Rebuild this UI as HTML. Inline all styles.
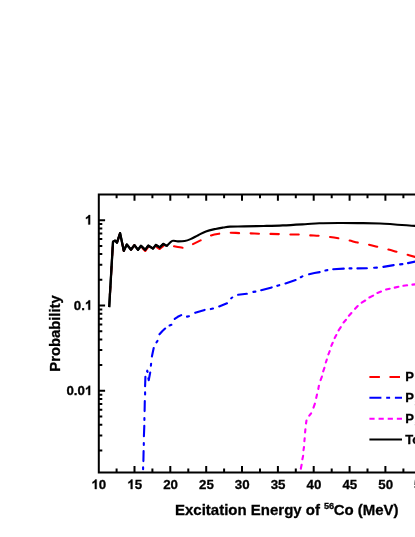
<!DOCTYPE html>
<html><head><meta charset="utf-8"><title>chart</title>
<style>html,body{margin:0;padding:0;background:#fff;}svg{display:block;will-change:transform;}text{font-family:"Liberation Sans",sans-serif;font-weight:bold;fill:#000;stroke:#000;stroke-width:0.3px;}</style></head>
<body>
<svg width="415" height="537" viewBox="0 0 415 537">
<defs><clipPath id="c"><rect x="98.8" y="194.4" width="400" height="277.0"/></clipPath></defs>
<g clip-path="url(#c)" fill="none" stroke-width="2.1" stroke-linejoin="round">
<path d="M173.5,246.2 L166.9,248.0 L163.3,246.0 L159.7,249.0 L155.9,246.6 L153.0,250.0 L148.2,247.0 L145.2,251.0 L141.0,246.8 L138.0,250.5 L134.4,245.1 L131.0,249.7 L126.8,244.5 L123.8,250.8 L120.1,233.2 L117.0,242.7 L115.1,240.6 L113.0,241.7 L109.3,305.0" stroke="#ff0000" stroke-linecap="round" stroke-dasharray="8.4 11.5" stroke-dashoffset="9.1"/>
<path d="M173.5,246.2 C175.02,246.47 180.52,247.58 182.60,247.80 C184.68,248.02 184.53,247.98 186.00,247.50 C187.47,247.02 188.98,246.08 191.40,244.90 C193.82,243.72 197.43,241.92 200.50,240.40 C203.57,238.88 206.72,236.92 209.80,235.80 C212.88,234.68 215.67,234.22 219.00,233.70 C222.33,233.18 226.38,232.80 229.80,232.70 C233.22,232.60 236.18,233.00 239.50,233.10 C242.82,233.20 246.40,233.20 249.70,233.30 C253.00,233.40 256.03,233.60 259.30,233.70 C262.57,233.80 265.95,233.83 269.30,233.90 C272.65,233.97 276.02,234.00 279.40,234.10 C282.78,234.20 286.30,234.43 289.60,234.50 C292.90,234.57 295.92,234.37 299.20,234.50 C302.48,234.63 306.02,235.08 309.30,235.30 C312.58,235.52 315.63,235.55 318.90,235.80 C322.17,236.05 325.62,236.38 328.90,236.80 C332.18,237.22 335.32,237.72 338.60,238.30 C341.88,238.88 345.40,239.58 348.60,240.30 C351.80,241.02 354.63,241.92 357.80,242.60 C360.97,243.28 364.30,243.68 367.60,244.40 C370.90,245.12 374.25,246.07 377.60,246.90 C380.95,247.73 384.48,248.57 387.70,249.40 C390.92,250.23 393.83,251.07 396.90,251.90 C399.97,252.73 403.08,253.57 406.10,254.40 C409.12,255.23 411.02,255.80 415.00,256.90 C418.98,258.00 427.50,260.32 430.00,261.00" stroke="#ff0000" stroke-linecap="round" stroke-dasharray="8.4 11.5" stroke-dashoffset="-0.7"/>
<path d="M143.1,469.3 L143.1,467.2 M143.4,461.1 L143.6,451.1 M143.8,445.0 L143.8,443.0 M143.9,436.3 L144.3,425.9 M144.4,420.0 L144.4,418.0 M144.6,411.1 L144.8,401.1 M145.1,394.4 L145.1,392.4 M145.1,386.3 L145.4,376.9 M147.1,371.3 L147.3,370.7 L147.6,372.0 M148.4,378.3 L148.7,380.2 L150.2,372.5 M150.9,365.7 L151.1,363.7 M151.9,356.5 L153.7,348.0 M156.5,342.3 L157.5,340.9 M159.5,334.3 L162.2,331.2 L165.1,328.5 M169.6,325.5 L171.4,324.8 M174.7,318.9 L177.8,316.8 L181.2,315.1 M187.0,316.6 L189.0,316.2 M195.2,312.8 L204.6,309.9 M210.8,309.1 L213.0,308.6 M219.2,306.4 L227.0,303.3 M231.2,298.3 L232.2,297.5 M238.1,294.8 L246.8,293.8 M253.4,291.9 L255.4,291.6 M261.2,290.3 L271.7,287.4 M277.3,285.8 L279.3,285.2 M285.5,283.4 L295.6,280.1 M300.8,277.2 L302.4,276.4 M309.1,274.2 L314.4,273.0 L319.7,272.1 M325.4,270.5 L327.4,270.1 M333.2,269.3 L343.8,268.6 M349.5,268.4 L351.5,268.4 M357.4,268.4 L366.9,268.2 M374.1,267.7 L376.9,267.6 M383.4,266.9 L393.7,265.1 M400.1,264.4 L402.4,264.1 M408.0,263.1 L418.3,260.9" stroke="#0000ff" stroke-linecap="round"/>
<path d="M300.8,468.7 L301.6,464.7 M302.4,459.3 L303.1,455.9 M303.5,450.1 L304.0,447.0 M304.4,441.2 L304.7,438.2 M305.1,432.4 L305.4,429.3 M306.0,423.5 L306.5,420.5 M309.3,415.7 L311.1,413.3 M313.5,407.6 L314.9,403.7 M316.2,397.9 L317.0,394.5 M318.3,389.0 L318.9,385.7 M320.6,380.1 L321.9,376.6 M323.2,371.3 L324.4,367.8 M325.8,362.5 L326.8,359.6 M328.4,354.3 L329.7,351.2 M331.3,345.9 L332.7,342.8 M334.7,338.1 L336.3,335.0 M338.6,330.4 L340.8,327.1 M343.6,322.5 L346.0,319.8 M348.9,315.7 L351.4,313.0 M355.1,308.8 L357.7,306.1 M361.7,302.6 L365.2,300.5 M369.4,297.5 L373.1,295.6 M377.4,292.9 L381.0,291.6 M386.1,289.6 L389.7,288.7 M394.7,287.6 L398.4,286.8 M403.4,285.8 L407.1,285.3 M412.4,284.6 L416.3,284.3" stroke="#ff00ff" stroke-linecap="round"/>
<path d="M109.2,307.1 L113.0,241.7 L115.1,240.6 L117.0,242.7 L120.1,233.2 L123.8,250.8 L126.8,244.5 L131.0,249.7 L134.4,245.1 L138.0,249.8 L141.0,245.8 L145.2,249.8 L148.2,245.6 L153.0,248.6 L155.9,244.9 L159.7,247.4 L163.3,243.9 L166.9,245.9 C167.80,245.07 170.48,241.65 172.30,240.90 C174.12,240.15 175.73,241.38 177.80,241.40 C179.87,241.42 182.58,241.38 184.70,241.00 C186.82,240.62 188.25,240.07 190.50,239.10 C192.75,238.13 195.63,236.48 198.20,235.20 C200.77,233.92 203.02,232.45 205.90,231.40 C208.78,230.35 212.60,229.55 215.50,228.90 C218.40,228.25 220.88,227.88 223.30,227.50 C225.72,227.12 226.50,226.78 230.00,226.60 C233.50,226.42 238.70,226.50 244.30,226.40 C249.90,226.30 257.18,226.17 263.60,226.00 C270.02,225.83 275.90,225.70 282.80,225.40 C289.70,225.10 298.92,224.55 305.00,224.20 C311.08,223.85 313.70,223.50 319.30,223.30 C324.90,223.10 332.18,223.03 338.60,223.00 C345.02,222.97 350.90,223.02 357.80,223.10 C364.70,223.18 370.47,223.03 380.00,223.50 C389.53,223.97 406.67,225.32 415.00,225.90 C423.33,226.48 427.50,226.82 430.00,227.00" stroke="#000"/>
<path d="M109.2,307.1 L113.0,241.7 L115.1,240.6 L117.0,242.7 L120.1,233.2 L123.8,250.8 L126.8,244.5 L131.0,249.7 L134.4,245.1 L138.0,249.8 L141.0,245.8 L145.2,249.8 L148.2,245.6 L153.0,248.6 L155.9,244.9 L159.7,247.4 L163.3,243.9 L166.9,245.9" stroke="#000" stroke-width="2.3"/>
</g>
<g stroke="#000" stroke-width="2" fill="none">
<path d="M97.8,194.4 H420 M97.8,472.4 H420 M98.8,194.4 V472.4"/>
<path d="M116.6,194.4 v3.8 M116.6,472.4 v-3.8 M134.5,194.4 v6.3 M134.5,472.4 v-6.3 M152.4,194.4 v3.8 M152.4,472.4 v-3.8 M170.3,194.4 v6.3 M170.3,472.4 v-6.3 M188.3,194.4 v3.8 M188.3,472.4 v-3.8 M206.2,194.4 v6.3 M206.2,472.4 v-6.3 M224.1,194.4 v3.8 M224.1,472.4 v-3.8 M242.0,194.4 v6.3 M242.0,472.4 v-6.3 M260.0,194.4 v3.8 M260.0,472.4 v-3.8 M277.9,194.4 v6.3 M277.9,472.4 v-6.3 M295.8,194.4 v3.8 M295.8,472.4 v-3.8 M313.7,194.4 v6.3 M313.7,472.4 v-6.3 M331.7,194.4 v3.8 M331.7,472.4 v-3.8 M349.6,194.4 v6.3 M349.6,472.4 v-6.3 M367.5,194.4 v3.8 M367.5,472.4 v-3.8 M385.4,194.4 v6.3 M385.4,472.4 v-6.3 M403.4,194.4 v3.8 M403.4,472.4 v-3.8 M421.3,194.4 v6.3 M421.3,472.4 v-6.3 M98.8,220.2 h6.3 M98.8,305.5 h6.3 M98.8,279.8 h3.5 M98.8,264.8 h3.5 M98.8,254.1 h3.5 M98.8,245.9 h3.5 M98.8,239.1 h3.5 M98.8,233.4 h3.5 M98.8,228.5 h3.5 M98.8,224.1 h3.5 M98.8,390.8 h6.3 M98.8,365.1 h3.5 M98.8,350.1 h3.5 M98.8,339.4 h3.5 M98.8,331.2 h3.5 M98.8,324.4 h3.5 M98.8,318.7 h3.5 M98.8,313.8 h3.5 M98.8,309.4 h3.5 M98.8,450.4 h3.5 M98.8,435.4 h3.5 M98.8,424.7 h3.5 M98.8,416.5 h3.5 M98.8,409.7 h3.5 M98.8,404.0 h3.5 M98.8,399.1 h3.5 M98.8,394.7 h3.5"/>
</g>
<g transform="translate(91.43,489.10) scale(1,1.000)"><path transform="translate(0.00,0) scale(0.00649)" d="M806,0 H525 V-1059 Q371,-915 162,-846 V-1101 Q272,-1137 401,-1237.5 Q530,-1338 578,-1472 H806 Z" fill="#000" stroke="#000" stroke-width="46"/><text x="7.40" y="0" font-size="13.3">0</text></g>
<g transform="translate(127.28,489.10) scale(1,1.000)"><path transform="translate(0.00,0) scale(0.00649)" d="M806,0 H525 V-1059 Q371,-915 162,-846 V-1101 Q272,-1137 401,-1237.5 Q530,-1338 578,-1472 H806 Z" fill="#000" stroke="#000" stroke-width="46"/><text x="7.40" y="0" font-size="13.3">5</text></g>
<g transform="translate(163.13,489.10) scale(1,1.000)"><text x="0.00" y="0" font-size="13.3">20</text></g>
<g transform="translate(198.98,489.10) scale(1,1.000)"><text x="0.00" y="0" font-size="13.3">25</text></g>
<g transform="translate(234.83,489.10) scale(1,1.000)"><text x="0.00" y="0" font-size="13.3">30</text></g>
<g transform="translate(270.68,489.10) scale(1,1.000)"><text x="0.00" y="0" font-size="13.3">35</text></g>
<g transform="translate(306.53,489.10) scale(1,1.000)"><text x="0.00" y="0" font-size="13.3">40</text></g>
<g transform="translate(342.38,489.10) scale(1,1.000)"><text x="0.00" y="0" font-size="13.3">45</text></g>
<g transform="translate(378.23,489.10) scale(1,1.000)"><text x="0.00" y="0" font-size="13.3">50</text></g>
<g transform="translate(414.08,489.10) scale(1,1.000)"><text x="0.00" y="0" font-size="13.3">55</text></g>
<g transform="translate(84.90,224.50) scale(1,0.990)"><path transform="translate(0.00,0) scale(0.00649)" d="M806,0 H525 V-1059 Q371,-915 162,-846 V-1101 Q272,-1137 401,-1237.5 Q530,-1338 578,-1472 H806 Z" fill="#000" stroke="#000" stroke-width="46"/></g>
<g transform="translate(73.81,309.80) scale(1,0.990)"><text x="0.00" y="0" font-size="13.3">0.</text><path transform="translate(11.09,0) scale(0.00649)" d="M806,0 H525 V-1059 Q371,-915 162,-846 V-1101 Q272,-1137 401,-1237.5 Q530,-1338 578,-1472 H806 Z" fill="#000" stroke="#000" stroke-width="46"/></g>
<g transform="translate(66.41,395.10) scale(1,0.990)"><text x="0.00" y="0" font-size="13.3">0.0</text><path transform="translate(18.49,0) scale(0.00649)" d="M806,0 H525 V-1059 Q371,-915 162,-846 V-1101 Q272,-1137 401,-1237.5 Q530,-1338 578,-1472 H806 Z" fill="#000" stroke="#000" stroke-width="46"/></g>
<text transform="translate(175,515.3) scale(1,1.03)" font-size="15">Excitation Energy of <tspan font-size="9.2" dy="-6.3" dx="-0.2">56</tspan><tspan dy="6.3" dx="-0.5">Co (MeV)</tspan></text>
<text transform="translate(59.9,371.7) rotate(-90) scale(1,1.03)" font-size="14.8">Probability</text>
<g fill="none" stroke-width="2">
<path d="M369.4,377 H400.4" stroke="#ff0000" stroke-dasharray="10.5 9.6"/>
<path d="M369.4,397.8 H402" stroke="#0000ff" stroke-dasharray="12 4.8 3.9 4.8"/>
<path d="M369.4,418.8 H402" stroke="#ff00ff" stroke-dasharray="5.2 3.95"/>
<path d="M369.4,439.4 H402" stroke="#000"/>
</g>
<text x="405.2" y="381.1" font-size="13">P<tspan font-size="8" dy="3" dx="0.8">n</tspan></text>
<text x="405.2" y="401.9" font-size="13">P<tspan font-size="8" dy="3" dx="0.8">2n</tspan></text>
<text x="405.2" y="422.9" font-size="13">P<tspan font-size="8" dy="3" dx="0.8">3n</tspan></text>
<text x="405.2" y="443.5" font-size="13">Total</text>
</svg>
</body></html>
